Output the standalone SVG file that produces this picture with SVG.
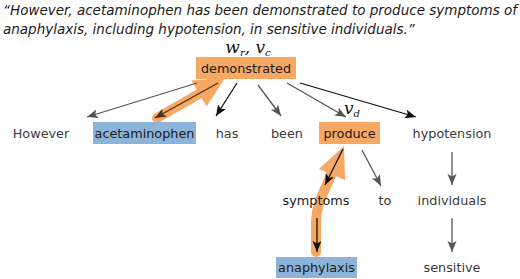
<svg xmlns="http://www.w3.org/2000/svg" width="520" height="279" viewBox="0 0 520 279">
<defs>
<style>
.t{font-family:"DejaVu Sans",sans-serif;font-size:12.8px;fill:#3a3a3a}
.tb{font-family:"DejaVu Sans",sans-serif;font-size:12.8px;fill:#1a1a1a}
.title{font-family:"DejaVu Sans",sans-serif;font-style:italic;font-size:13.5px;fill:#1a1a1a}
.m{font-family:"DejaVu Serif","Liberation Serif",serif;font-style:italic;fill:#111}
.g{stroke:#555;stroke-width:1.3;fill:none;marker-end:url(#ag)}
.k{stroke:#111;stroke-width:1.3;fill:none;marker-end:url(#ak)}
.br{stroke:#4a3020;stroke-width:1.3;fill:none;marker-end:url(#abr)}
.or{fill:#f7a863}
.ors{stroke:#f7a863;stroke-width:10;fill:none;stroke-linecap:round}
.blue{fill:#8db4d8}
</style>
<marker id="ag" markerWidth="12" markerHeight="10" refX="11" refY="4.5" orient="auto" markerUnits="userSpaceOnUse"><path d="M0,0 L11,4.5 L0,9 L2.5,4.5 z" fill="#555"/></marker>
<marker id="ak" markerWidth="12" markerHeight="10" refX="11" refY="4.5" orient="auto" markerUnits="userSpaceOnUse"><path d="M0,0 L11,4.5 L0,9 L2.5,4.5 z" fill="#111"/></marker>
<marker id="abr" markerWidth="12" markerHeight="10" refX="11" refY="4.5" orient="auto" markerUnits="userSpaceOnUse"><path d="M0,0 L11,4.5 L0,9 L2.5,4.5 z" fill="#4a3020"/></marker>
</defs>
<rect width="520" height="279" fill="#fff"/>
<g id="title">
<text class="title" x="3" y="15" textLength="514" lengthAdjust="spacing">“However, acetaminophen has been demonstrated to produce symptoms of</text>
<text class="title" x="3" y="34">anaphylaxis, including hypotension, in sensitive individuals.”</text>
</g>
<g id="highlights">
<line class="ors" x1="157" y1="118" x2="199" y2="94"/>
<polygon class="or" points="191.5,80.5 225,78 206.5,106.5"/>
<path class="ors" d="M316,252 L316,222 C316,205 324,192 331,175"/>
<polygon class="or" points="319,169 344,146 345,180"/>
</g>
<g id="connectors">
<line class="g" x1="197" y1="83" x2="87" y2="117"/>
<line class="br" x1="218" y1="83" x2="155" y2="118"/>
<line class="k" x1="237" y1="83" x2="216" y2="116"/>
<line class="g" x1="258" y1="85" x2="281" y2="116"/>
<line class="g" x1="287" y1="83" x2="346" y2="117"/>
<line class="k" x1="300" y1="83" x2="416" y2="117"/>
<line class="k" x1="343" y1="149" x2="325" y2="185"/>
<line class="g" x1="362" y1="150" x2="381" y2="186"/>
<line class="k" x1="317" y1="218" x2="317" y2="252"/>
<line class="g" x1="452" y1="152" x2="452" y2="185"/>
<line class="g" x1="452" y1="218" x2="452" y2="252"/>
</g>
<g id="n-demonstrated">
<rect class="or" x="196" y="57" width="100" height="22"/>
<text class="tb" x="246" y="73" text-anchor="middle">demonstrated</text>
<text class="m" x="248" y="53" text-anchor="middle" font-size="17">w<tspan font-size="10" dy="3">r</tspan><tspan dy="-3">, v</tspan><tspan font-size="10" dy="3">c</tspan></text>
</g>
<g id="n-however"><text class="t" x="41" y="138" text-anchor="middle">However</text></g>
<g id="n-acetaminophen">
<rect class="blue" x="93" y="122" width="103" height="22"/>
<text class="tb" x="144.5" y="138" text-anchor="middle">acetaminophen</text>
</g>
<g id="n-has"><text class="t" x="227" y="138" text-anchor="middle">has</text></g>
<g id="n-been"><text class="t" x="287" y="138" text-anchor="middle">been</text></g>
<g id="n-produce">
<rect class="or" x="319" y="122" width="61" height="22"/>
<text class="tb" x="349.5" y="138" text-anchor="middle">produce</text>
<text class="m" x="352" y="114" text-anchor="middle" font-size="17">v<tspan font-size="10" dy="3">d</tspan></text>
</g>
<g id="n-hypotension"><text class="t" x="452" y="138" text-anchor="middle">hypotension</text></g>
<g id="n-symptoms"><text class="tb" x="316" y="205" text-anchor="middle">symptoms</text></g>
<g id="n-to"><text class="t" x="385" y="205" text-anchor="middle">to</text></g>
<g id="n-individuals"><text class="t" x="452" y="205" text-anchor="middle">individuals</text></g>
<g id="n-anaphylaxis">
<rect class="blue" x="276" y="257" width="81" height="21"/>
<text class="tb" x="316.5" y="272" text-anchor="middle">anaphylaxis</text>
</g>
<g id="n-sensitive"><text class="t" x="452" y="272" text-anchor="middle">sensitive</text></g>
</svg>
